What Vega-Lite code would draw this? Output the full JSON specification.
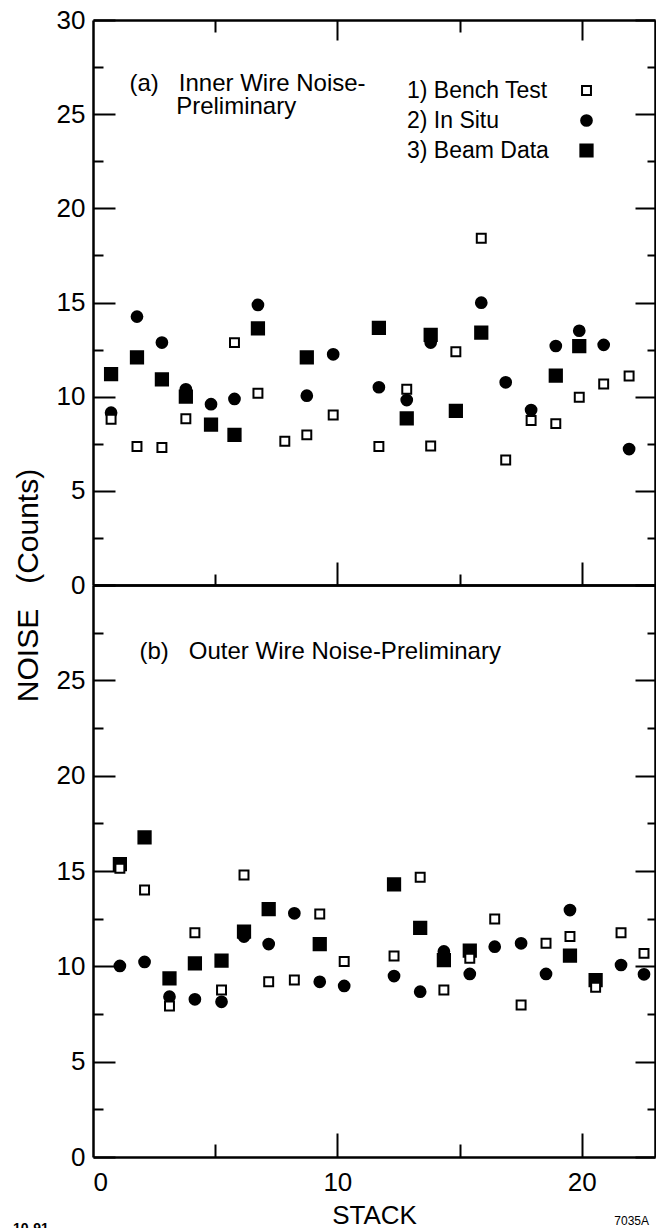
{
  "$schema": "https://vega.github.io/schema/vega-lite/v6.json",
  "background": "white",
  "padding": {"left": 13, "top": 7, "right": 0, "bottom": 0},
  "bounds": "flush",
  "spacing": 0,
  "config": {
    "view": {"stroke": null},
    "font": "Liberation Sans",
    "axis": {
      "domainColor": "black", "tickColor": "black", "labelColor": "black", "titleColor": "black",
      "grid": false, "domainWidth": 2.5, "tickWidth": 2,
      "labelFont": "Liberation Sans", "titleFont": "Liberation Sans", "titleFontWeight": "normal",
      "labelFontSize": 26, "labelOverlap": false
    },
    "legend": {"labelFont": "Liberation Sans"}
  },
  "title": {"text": "10-91", "orient": "bottom", "anchor": "start", "frame": "bounds", "fontSize": 14, "fontWeight": "bold", "color": "black", "offset": 0, "dy": -6},
  "datasets": {
    "inner": [
      {"stack": 0.74, "series": "2) In Situ", "noise": 9.15},
      {"stack": 0.74, "series": "3) Beam Data", "noise": 11.2},
      {"stack": 0.74, "series": "1) Bench Test", "noise": 8.8},
      {"stack": 1.80, "series": "2) In Situ", "noise": 14.25},
      {"stack": 1.80, "series": "3) Beam Data", "noise": 12.09},
      {"stack": 1.80, "series": "1) Bench Test", "noise": 7.35},
      {"stack": 2.82, "series": "2) In Situ", "noise": 12.87},
      {"stack": 2.82, "series": "3) Beam Data", "noise": 10.92},
      {"stack": 2.82, "series": "1) Bench Test", "noise": 7.3},
      {"stack": 3.80, "series": "3) Beam Data", "noise": 10.0},
      {"stack": 3.80, "series": "2) In Situ", "noise": 10.39},
      {"stack": 3.80, "series": "1) Bench Test", "noise": 8.83},
      {"stack": 4.83, "series": "2) In Situ", "noise": 9.6},
      {"stack": 4.83, "series": "3) Beam Data", "noise": 8.51},
      {"stack": 5.79, "series": "2) In Situ", "noise": 9.88},
      {"stack": 5.79, "series": "3) Beam Data", "noise": 7.97},
      {"stack": 5.79, "series": "1) Bench Test", "noise": 12.87},
      {"stack": 6.75, "series": "2) In Situ", "noise": 14.87},
      {"stack": 6.75, "series": "3) Beam Data", "noise": 13.63},
      {"stack": 6.75, "series": "1) Bench Test", "noise": 10.18},
      {"stack": 7.85, "series": "1) Bench Test", "noise": 7.63},
      {"stack": 8.75, "series": "2) In Situ", "noise": 10.05},
      {"stack": 8.75, "series": "3) Beam Data", "noise": 12.09},
      {"stack": 8.75, "series": "1) Bench Test", "noise": 7.97},
      {"stack": 9.83, "series": "2) In Situ", "noise": 12.25},
      {"stack": 9.83, "series": "1) Bench Test", "noise": 9.03},
      {"stack": 11.70, "series": "2) In Situ", "noise": 10.5},
      {"stack": 11.70, "series": "3) Beam Data", "noise": 13.65},
      {"stack": 11.70, "series": "1) Bench Test", "noise": 7.35},
      {"stack": 12.84, "series": "2) In Situ", "noise": 9.82},
      {"stack": 12.84, "series": "3) Beam Data", "noise": 8.85},
      {"stack": 12.84, "series": "1) Bench Test", "noise": 10.39},
      {"stack": 13.82, "series": "3) Beam Data", "noise": 13.28},
      {"stack": 13.82, "series": "2) In Situ", "noise": 12.87},
      {"stack": 13.82, "series": "1) Bench Test", "noise": 7.38},
      {"stack": 14.85, "series": "3) Beam Data", "noise": 9.24},
      {"stack": 14.85, "series": "1) Bench Test", "noise": 12.39},
      {"stack": 15.89, "series": "2) In Situ", "noise": 14.99},
      {"stack": 15.89, "series": "3) Beam Data", "noise": 13.4},
      {"stack": 15.89, "series": "1) Bench Test", "noise": 18.41},
      {"stack": 16.89, "series": "2) In Situ", "noise": 10.76},
      {"stack": 16.89, "series": "1) Bench Test", "noise": 6.64},
      {"stack": 17.93, "series": "2) In Situ", "noise": 9.29},
      {"stack": 17.93, "series": "1) Bench Test", "noise": 8.73},
      {"stack": 18.94, "series": "2) In Situ", "noise": 12.69},
      {"stack": 18.94, "series": "3) Beam Data", "noise": 11.12},
      {"stack": 18.94, "series": "1) Bench Test", "noise": 8.57},
      {"stack": 19.90, "series": "2) In Situ", "noise": 13.5},
      {"stack": 19.90, "series": "3) Beam Data", "noise": 12.69},
      {"stack": 19.90, "series": "1) Bench Test", "noise": 9.97},
      {"stack": 20.90, "series": "2) In Situ", "noise": 12.75},
      {"stack": 20.90, "series": "1) Bench Test", "noise": 10.67},
      {"stack": 21.94, "series": "2) In Situ", "noise": 7.22},
      {"stack": 21.94, "series": "1) Bench Test", "noise": 11.1}
    ],
    "outer": [
      {"stack": 1.10, "series": "2) In Situ", "noise": 10.02},
      {"stack": 1.10, "series": "1) Bench Test", "noise": 15.14},
      {"stack": 1.10, "series": "3) Beam Data", "noise": 15.36},
      {"stack": 2.11, "series": "2) In Situ", "noise": 10.23},
      {"stack": 2.11, "series": "3) Beam Data", "noise": 16.76},
      {"stack": 2.11, "series": "1) Bench Test", "noise": 14.0},
      {"stack": 3.13, "series": "2) In Situ", "noise": 8.41},
      {"stack": 3.13, "series": "3) Beam Data", "noise": 9.37},
      {"stack": 3.13, "series": "1) Bench Test", "noise": 7.92},
      {"stack": 4.17, "series": "2) In Situ", "noise": 8.27},
      {"stack": 4.17, "series": "3) Beam Data", "noise": 10.16},
      {"stack": 4.17, "series": "1) Bench Test", "noise": 11.76},
      {"stack": 5.26, "series": "2) In Situ", "noise": 8.14},
      {"stack": 5.26, "series": "3) Beam Data", "noise": 10.3},
      {"stack": 5.26, "series": "1) Bench Test", "noise": 8.76},
      {"stack": 6.18, "series": "2) In Situ", "noise": 11.56},
      {"stack": 6.18, "series": "3) Beam Data", "noise": 11.82},
      {"stack": 6.18, "series": "1) Bench Test", "noise": 14.79},
      {"stack": 7.19, "series": "2) In Situ", "noise": 11.17},
      {"stack": 7.19, "series": "3) Beam Data", "noise": 13.0},
      {"stack": 7.19, "series": "1) Bench Test", "noise": 9.19},
      {"stack": 8.24, "series": "2) In Situ", "noise": 12.78},
      {"stack": 8.24, "series": "1) Bench Test", "noise": 9.28},
      {"stack": 9.28, "series": "2) In Situ", "noise": 9.19},
      {"stack": 9.28, "series": "3) Beam Data", "noise": 11.17},
      {"stack": 9.28, "series": "1) Bench Test", "noise": 12.74},
      {"stack": 10.28, "series": "2) In Situ", "noise": 8.97},
      {"stack": 10.28, "series": "1) Bench Test", "noise": 10.25},
      {"stack": 12.32, "series": "2) In Situ", "noise": 9.49},
      {"stack": 12.32, "series": "3) Beam Data", "noise": 14.3},
      {"stack": 12.32, "series": "1) Bench Test", "noise": 10.54},
      {"stack": 13.39, "series": "2) In Situ", "noise": 8.67},
      {"stack": 13.39, "series": "3) Beam Data", "noise": 12.02},
      {"stack": 13.39, "series": "1) Bench Test", "noise": 14.67},
      {"stack": 14.36, "series": "2) In Situ", "noise": 10.78},
      {"stack": 14.36, "series": "3) Beam Data", "noise": 10.33},
      {"stack": 14.36, "series": "1) Bench Test", "noise": 8.76},
      {"stack": 15.42, "series": "2) In Situ", "noise": 9.6},
      {"stack": 15.42, "series": "3) Beam Data", "noise": 10.82},
      {"stack": 15.42, "series": "1) Bench Test", "noise": 10.42},
      {"stack": 16.44, "series": "2) In Situ", "noise": 11.03},
      {"stack": 16.44, "series": "1) Bench Test", "noise": 12.48},
      {"stack": 17.52, "series": "2) In Situ", "noise": 11.21},
      {"stack": 17.52, "series": "1) Bench Test", "noise": 7.97},
      {"stack": 18.54, "series": "2) In Situ", "noise": 9.6},
      {"stack": 18.54, "series": "1) Bench Test", "noise": 11.21},
      {"stack": 19.52, "series": "2) In Situ", "noise": 12.95},
      {"stack": 19.52, "series": "3) Beam Data", "noise": 10.56},
      {"stack": 19.52, "series": "1) Bench Test", "noise": 11.56},
      {"stack": 20.57, "series": "3) Beam Data", "noise": 9.28},
      {"stack": 20.57, "series": "1) Bench Test", "noise": 8.9},
      {"stack": 21.61, "series": "2) In Situ", "noise": 10.07},
      {"stack": 21.61, "series": "1) Bench Test", "noise": 11.76},
      {"stack": 22.55, "series": "2) In Situ", "noise": 9.58},
      {"stack": 22.55, "series": "1) Bench Test", "noise": 10.68}
    ]
  },
  "vconcat": [
    {
      "width": 562,
      "height": 565,
      "data": {"name": "inner"},
      "resolve": {"axis": {"x": "independent", "y": "independent"}},
      "encoding": {
        "shape": {"field": "series", "type": "nominal",
          "scale": {"domain": ["1) Bench Test", "2) In Situ", "3) Beam Data"], "range": ["square", "circle", "square"]},
          "legend": {"orient": "none", "legendX": 482, "legendY": 59, "title": null, "padding": 0,
            "labelFontSize": 23, "labelColor": "black", "labelAlign": "left", "labelOffset": -191, "labelLimit": 0,
            "rowPadding": 6, "symbolStrokeColor": "black", "symbolStrokeWidth": 2}},
        "fill": {"field": "series", "type": "nominal",
          "scale": {"domain": ["1) Bench Test", "2) In Situ", "3) Beam Data"], "range": ["white", "black", "black"]},
          "legend": {"orient": "none", "legendX": 482, "legendY": 59, "title": null, "padding": 0,
            "labelFontSize": 23, "labelColor": "black", "labelAlign": "left", "labelOffset": -191, "labelLimit": 0,
            "rowPadding": 6, "symbolStrokeColor": "black", "symbolStrokeWidth": 2}},
        "stroke": {"field": "series", "type": "nominal",
          "scale": {"domain": ["1) Bench Test", "2) In Situ", "3) Beam Data"], "range": ["black", "black", "black"]},
          "legend": {"orient": "none", "legendX": 482, "legendY": 59, "title": null, "padding": 0,
            "labelFontSize": 23, "labelColor": "black", "labelAlign": "left", "labelOffset": -191, "labelLimit": 0,
            "rowPadding": 6, "symbolStrokeColor": "black", "symbolStrokeWidth": 2}},
        "size": {"field": "series", "type": "nominal",
          "scale": {"domain": ["1) Bench Test", "2) In Situ", "3) Beam Data"], "range": [80, 150, 100]},
          "legend": {"orient": "none", "legendX": 482, "legendY": 59, "title": null, "padding": 0,
            "labelFontSize": 23, "labelColor": "black", "labelAlign": "left", "labelOffset": -191, "labelLimit": 0,
            "rowPadding": 6, "symbolStrokeColor": "black", "symbolStrokeWidth": 2}}
      },
      "layer": [
        {
          "transform": [{"filter": "datum.series !== '1) Bench Test'"}],
          "mark": {"type": "point", "filled": true, "opacity": 1, "strokeWidth": 2},
          "encoding": {
            "x": {"field": "stack", "type": "quantitative", "scale": {"domain": [0, 23], "nice": false, "zero": false},
              "axis": {"orient": "bottom", "values": [5, 10, 15, 20], "labels": false, "title": null,
                "tickSize": {"condition": {"test": "datum.value % 10 === 0", "value": -23}, "value": -11}}},
            "y": {"field": "noise", "type": "quantitative", "scale": {"domain": [0, 30], "nice": false},
              "axis": {"orient": "left", "values": [0, 2.5, 5, 7.5, 10, 12.5, 15, 17.5, 20, 22.5, 25, 27.5, 30],
                "labelExpr": "datum.value % 5 === 0 ? datum.label : ''",
                "tickSize": {"condition": {"test": "datum.value % 5 === 0", "value": -22}, "value": -10},
                "labelPadding": 30,
                "title": "NOISE\u00a0\u00a0\u00a0(Counts)", "titleFontSize": 30, "titleX": -65, "titleY": 565,
                "titleAlign": "center", "titleBaseline": "middle", "titleAngle": -90}}
          }
        },
        {
          "transform": [{"filter": "datum.series === '1) Bench Test'"}],
          "mark": {"type": "point", "filled": true, "opacity": 1, "strokeWidth": 2},
          "encoding": {
            "x": {"field": "stack", "type": "quantitative",
              "axis": {"orient": "top", "values": [5, 10, 15, 20], "labels": false,
                "tickSize": {"condition": {"test": "datum.value % 10 === 0", "value": -20}, "value": -12},
                "title": ["(a)\u00a0\u00a0\u00a0Inner Wire Noise-", "\u200b\u00a0\u00a0\u00a0\u00a0\u00a0\u00a0\u00a0Preliminary"],
                "titleFontSize": 24, "titleX": 36, "titleY": 70, "titleAlign": "left", "titleBaseline": "alphabetic",
                "titleAnchor": "start", "titleLineHeight": 23}},
            "y": {"field": "noise", "type": "quantitative",
              "axis": {"orient": "right", "values": [0, 2.5, 5, 7.5, 10, 12.5, 15, 17.5, 20, 22.5, 25, 27.5, 30], "labels": false, "title": null,
                "tickSize": {"condition": {"test": "datum.value % 5 === 0", "value": -20}, "value": -8}}}
          }
        }
      ]
    },
    {
      "width": 562,
      "height": 572,
      "data": {"name": "outer"},
      "title": {"text": "7035A", "orient": "bottom", "anchor": "end", "frame": "group", "fontSize": 12, "fontWeight": "normal", "color": "black", "offset": 0, "dx": -6, "dy": -12},
      "resolve": {"axis": {"x": "independent", "y": "independent"}},
      "encoding": {
        "shape": {"field": "series", "type": "nominal",
          "scale": {"domain": ["1) Bench Test", "2) In Situ", "3) Beam Data"], "range": ["square", "circle", "square"]}, "legend": null},
        "fill": {"field": "series", "type": "nominal",
          "scale": {"domain": ["1) Bench Test", "2) In Situ", "3) Beam Data"], "range": ["white", "black", "black"]}, "legend": null},
        "stroke": {"field": "series", "type": "nominal",
          "scale": {"domain": ["1) Bench Test", "2) In Situ", "3) Beam Data"], "range": ["black", "black", "black"]}, "legend": null},
        "size": {"field": "series", "type": "nominal",
          "scale": {"domain": ["1) Bench Test", "2) In Situ", "3) Beam Data"], "range": [80, 150, 100]}, "legend": null}
      },
      "layer": [
        {
          "transform": [{"filter": "datum.series !== '1) Bench Test'"}],
          "mark": {"type": "point", "filled": true, "opacity": 1, "strokeWidth": 2},
          "encoding": {
            "x": {"field": "stack", "type": "quantitative", "scale": {"domain": [0, 23], "nice": false, "zero": false},
              "axis": {"orient": "bottom", "values": [0, 5, 10, 15, 20],
                "labelExpr": "datum.value % 10 === 0 ? datum.label : ''",
                "tickSize": {"condition": {"test": "datum.value % 10 === 0", "value": -24}, "value": -13},
                "tickOpacity": {"condition": {"test": "datum.value === 0", "value": 0}, "value": 1},
                "labelPadding": 36,
                "title": "STACK", "titleFontSize": 26, "titlePadding": -4}},
            "y": {"field": "noise", "type": "quantitative", "scale": {"domain": [0, 30], "nice": false},
              "axis": {"orient": "left", "values": [0, 2.5, 5, 7.5, 10, 12.5, 15, 17.5, 20, 22.5, 25, 27.5, 30],
                "labelExpr": "datum.value % 5 === 0 && datum.value < 30 ? datum.label : ''",
                "tickSize": {"condition": {"test": "datum.value % 5 === 0", "value": -22}, "value": -10},
                "labelPadding": 30, "title": null}}
          }
        },
        {
          "transform": [{"filter": "datum.series === '1) Bench Test'"}],
          "mark": {"type": "point", "filled": true, "opacity": 1, "strokeWidth": 2},
          "encoding": {
            "x": {"field": "stack", "type": "quantitative",
              "axis": {"orient": "top", "ticks": false, "labels": false,
                "title": "(b)\u00a0\u00a0\u00a0Outer Wire Noise-Preliminary",
                "titleFontSize": 24, "titleX": 46, "titleY": 73, "titleAlign": "left", "titleBaseline": "alphabetic",
                "titleAnchor": "start"}},
            "y": {"field": "noise", "type": "quantitative",
              "axis": {"orient": "right", "values": [0, 2.5, 5, 7.5, 10, 12.5, 15, 17.5, 20, 22.5, 25, 27.5, 30], "labels": false, "title": null,
                "tickSize": {"condition": {"test": "datum.value % 5 === 0", "value": -20}, "value": -8}}}
          }
        }
      ]
    }
  ]
}
